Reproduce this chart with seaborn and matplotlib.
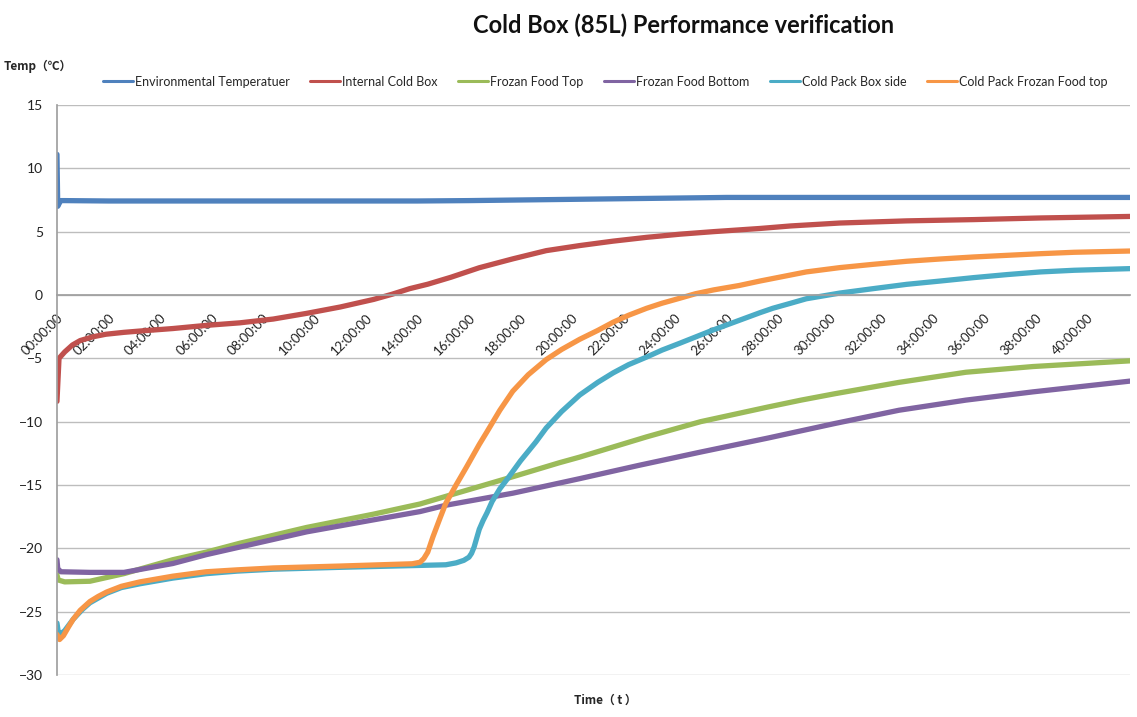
import seaborn as sns
import matplotlib.pyplot as plt
import pandas as pd
import matplotlib
matplotlib.use('Agg')

# readings, hours since start
env_h = [0, 0.03, 0.08, 0.15, 0.3, 2, 6, 10, 14, 16, 18, 20, 22, 24, 26, 28, 30, 32, 34, 36, 38, 40, 41.67]
env_v = [11.1, 7.0, 7.2, 7.45, 7.45, 7.42, 7.42, 7.42, 7.42, 7.45, 7.5, 7.55, 7.6, 7.65, 7.7, 7.7,
         7.7, 7.7, 7.7, 7.7, 7.7, 7.7, 7.7]

red_h = [0, 0.08, 0.3, 0.6, 0.9, 1.4, 1.9, 2.6, 3.2, 4.5, 5.8, 7.1, 8.4, 9.7, 11.0, 12.3, 13.0, 13.7,
         14.4, 15.3, 16.4, 17.7, 19.0, 20.3, 21.6, 22.9, 24.2, 25.5, 27.3, 28.5, 30.4, 33.0, 35.6,
         38.2, 41.67]
red_v = [-8.4, -5.0, -4.5, -3.95, -3.6, -3.3, -3.1, -2.95, -2.85, -2.65, -2.4, -2.2, -1.9, -1.45,
         -0.95, -0.35, 0.05, 0.5, 0.85, 1.4, 2.15, 2.85, 3.5, 3.9, 4.25, 4.55, 4.8, 5.0, 5.25, 5.45,
         5.68, 5.85, 5.95, 6.08, 6.2]

green_h = [0, 0.05, 0.3, 1.28, 2.6, 4.5, 5.8, 7.1, 9.7, 12.3, 14.1, 15.1, 17.7, 19.5, 20.3, 22.9,
           25.0, 27.6, 28.9, 30.2, 32.7, 35.3, 37.9, 41.67]
green_v = [-22.1, -22.5, -22.65, -22.6, -22.0, -20.9, -20.3, -19.6, -18.35, -17.3, -16.5, -15.9,
           -14.35, -13.25, -12.8, -11.2, -10.0, -8.85, -8.3, -7.8, -6.9, -6.1, -5.65, -5.2]

purple_h = [0, 0.03, 0.15, 1.28, 2.6, 4.5, 5.8, 7.1, 9.7, 12.3, 14.1, 15.1, 17.7, 20.3, 22.6, 25.0,
            27.6, 30.2, 32.7, 35.3, 37.9, 41.67]
purple_v = [-20.9, -21.6, -21.85, -21.9, -21.9, -21.2, -20.5, -19.9, -18.7, -17.75, -17.1, -16.6,
            -15.65, -14.5, -13.45, -12.4, -11.3, -10.15, -9.1, -8.3, -7.65, -6.8]

teal_h = [0, 0.05, 0.12, 0.3, 0.63, 1.0, 1.28, 1.93, 2.5, 3.22, 4.5, 5.8, 7.0, 8.4, 11.0, 14.1,
          15.1, 15.5, 15.8, 16.0, 16.1, 16.2, 16.3, 16.4, 16.55, 16.7, 16.9, 17.2, 17.5, 18.0, 18.6,
          19.0, 19.6, 20.3, 21.0, 21.6, 22.2, 22.9, 23.5, 24.2, 25.5, 26.5, 27.3, 27.8, 28.5, 29.1,
          30.4, 31.7, 33.0, 34.3, 35.6, 36.9, 38.2, 39.5, 41.67]
teal_v = [-25.9, -26.6, -26.8, -26.5, -25.6, -24.8, -24.3, -23.55, -23.1, -22.8, -22.35, -22.0,
          -21.8, -21.65, -21.5, -21.35, -21.3, -21.15, -20.95, -20.7, -20.4, -19.9, -19.2, -18.5,
          -17.8, -17.2, -16.3, -15.3, -14.5, -13.1, -11.6, -10.5, -9.2, -7.9, -6.9, -6.15, -5.5,
          -4.9, -4.35, -3.8, -2.75, -2.0, -1.4, -1.05, -0.65, -0.3, 0.15, 0.5, 0.84, 1.1, 1.37, 1.61,
          1.82, 1.95, 2.08]

orange_h = [0, 0.1, 0.25, 0.45, 0.63, 0.9, 1.28, 1.6, 1.93, 2.5, 3.22, 4.5, 5.8, 7.0, 8.4, 11.0,
            13.8, 14.1, 14.25, 14.4, 14.5, 14.6, 14.87, 15.1, 15.5, 15.9, 16.4, 16.7, 17.2, 17.7,
            18.3, 19.0, 19.6, 20.3, 21.0, 21.6, 22.2, 22.9, 23.5, 24.2, 24.8, 25.5, 26.5, 27.3,
            27.8, 28.5, 29.1, 30.4, 31.7, 33.0, 34.3, 35.6, 36.9, 38.2, 39.5, 41.67]
orange_v = [-26.8, -27.2, -26.9, -26.2, -25.6, -24.9, -24.2, -23.8, -23.45, -23.0, -22.65, -22.2,
            -21.85, -21.7, -21.55, -21.4, -21.22, -21.1, -20.8, -20.3, -19.7, -19.1, -17.65, -16.45,
            -15.0, -13.6, -11.8, -10.8, -9.1, -7.6, -6.3, -5.1, -4.3, -3.5, -2.8, -2.15, -1.6,
            -1.05, -0.65, -0.25, 0.1, 0.4, 0.75, 1.1, 1.3, 1.58, 1.82, 2.16, 2.42, 2.66, 2.84, 3.0,
            3.13, 3.26, 3.37, 3.47]

names = ["Environmental Temperatuer", "Internal Cold Box", "Frozan Food Top",
         "Frozan Food Bottom", "Cold Pack Box side", "Cold Pack Frozan Food top"]
colors = ["#4F81BD", "#C0504D", "#9BBB59", "#8064A2", "#4BACC6", "#F79646"]
tick_hours = list(range(0, 41, 2))
tick_labels = [f"{h:02d}:00:00" for h in tick_hours]

series = [(env_h, env_v), (red_h, red_v), (green_h, green_v),
          (purple_h, purple_v), (teal_h, teal_v), (orange_h, orange_v)]
frames = []
for name, (hh, vv) in zip(names, series):
    frames.append(pd.DataFrame({"hours": hh, "temp": vv, "series": name}))
df = pd.concat(frames, ignore_index=True)

sns.set_theme(style="white")
plt.rcParams['font.family'] = ['Lato', 'DejaVu Sans']

fig = plt.figure(figsize=(11.37, 7.17), dpi=100)
ax = fig.add_axes([0.0501, 0.0586, 0.9437, 0.795])

sns.lineplot(data=df, x="hours", y="temp", hue="series", hue_order=names,
             palette=colors, estimator=None, sort=False, linewidth=3.8, ax=ax)

# move the category axis up to 0 first (this rebuilds the ticks)
for s in ["top", "right"]:
    ax.spines[s].set_visible(False)
ax.spines["bottom"].set_position(("data", 0))
ax.spines["bottom"].set_color("#a0a0a0")
ax.spines["left"].set_color("#a0a0a0")

ax.set_xlim(0, 41.67)
ax.set_ylim(-30, 15)
ax.set_yticks(range(-30, 16, 5))
ax.tick_params(axis="y", length=0, labelsize=10, labelcolor="#222222", pad=10)
ax.tick_params(axis="x", direction="in", length=5, color="#a0a0a0", pad=12)
ax.set_xticks(tick_hours)
ax.set_xticklabels(tick_labels, fontsize=9.5, color="#222222")
plt.setp(ax.get_xticklabels(), rotation=45, ha="right", va="top", rotation_mode="anchor")
ax.grid(axis="y", color="#bdbdbd", linewidth=1)
ax.set_xlabel("")
ax.set_ylabel("")

handles, labels = ax.get_legend_handles_labels()
ax.get_legend().remove()
leg = fig.legend(handles, labels, loc="center", bbox_to_anchor=(0.532, 0.886), ncol=6,
                 frameon=False, fontsize=9, handlelength=2.4, handletextpad=0.15,
                 columnspacing=1.65)
for line in leg.get_lines():
    line.set_linewidth(2.2)

cjk = ['Noto Sans CJK SC', 'DejaVu Sans']
fig.text(0.601, 0.965, "Cold Box (85L) Performance verification", ha="center", va="center",
         fontsize=17, fontweight="bold", color="#111111")
fig.text(0.003, 0.907, "Temp（℃）", ha="left", va="center", fontsize=8.5,
         fontweight="bold", family=cjk)
fig.text(0.532, 0.023, "Time（ t ）", ha="center", va="center", fontsize=8.5,
         fontweight="bold", family=cjk)

plt.savefig("out.png", dpi=100)
plt.clf()
